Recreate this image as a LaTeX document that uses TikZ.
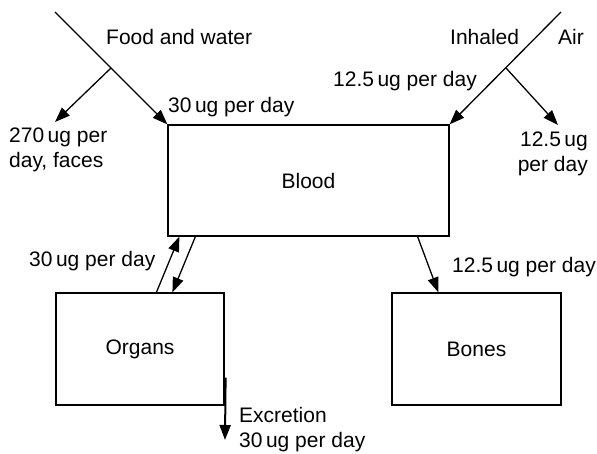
\documentclass[tikz,border=0pt]{standalone}
\usepackage{fontspec}
\setmainfont{Liberation Sans}
\usetikzlibrary{arrows.meta, positioning}

\begin{document}
\begin{tikzpicture}[x=1pt, y=-1pt,
            font=\fontsize{21}{25}\selectfont,
            box/.style={rectangle, draw, line width=1.2pt, inner sep=0pt},
            lbl/.style={inner sep=0pt, anchor=base west, align=left},
            flow/.style={-{Triangle[length=15pt, width=11pt]}, line width=1.3pt}
        ]
            \useasboundingbox (0,0) rectangle (597,454);

            \node[box, minimum width=281pt, minimum height=111pt] (blood) at (308.5,180.5) {Blood};
            \node[box, minimum width=168pt, minimum height=112pt] (organs) at (140,349) {Organs};
            \node[box, minimum width=169pt, minimum height=112pt] (bones) at (476.5,349) {Bones};

            \coordinate (food) at (55,12);
            \coordinate (foodsplit) at (111,68);
            \coordinate (faeces) at (55,122);
            \coordinate (air) at (561,12);
            \coordinate (airsplit) at (506,68);
            \coordinate (exhaled) at (558,125);
            \coordinate (excreted) at (225,440);

            \draw[flow] (food) -- (blood.north west);
            \draw[flow] (foodsplit) -- (faeces);
            \draw[flow] (air) -- (blood.north east);
            \draw[flow] (airsplit) -- (exhaled);
            \draw[flow] ([xshift=101pt]organs.north west) -- ([xshift=12pt]blood.south west);
            \draw[flow] ([xshift=28pt]blood.south west) -- ([xshift=117pt]organs.north west);
            \draw[flow] ([xshift=-32pt]blood.south east) -- ([xshift=47pt]bones.north west);
            \draw[flow, line width=2pt] ([xshift=1pt, yshift=28pt]organs.south east) -- (excreted);

            \node[lbl] (foodlbl) at (106,45) {Food and water};
            \node[lbl] (intake) at (168,113) {30\,ug per day};
            \node[lbl] (faeceslbl) at (9,168) {270\,ug per\\day, faces};
            \node[lbl] (inhaled) at (450,45) {Inhaled};
            \node[lbl] (airlbl) at (558,45) {Air};
            \node[lbl] (uptake) at (333,87) {12.5\,ug per day};
            \node[lbl, align=right, anchor=base east] (exhaledlbl) at (588,172) {12.5\,ug\\per day};
            \node[lbl] (toorgans) at (29,267) {30\,ug per day};
            \node[lbl] (tobones) at (452,273) {12.5\,ug per day};
            \node[lbl] (excretion) at (239,447) {Excretion\\30\,ug per day};
        \end{tikzpicture}
\end{document}
